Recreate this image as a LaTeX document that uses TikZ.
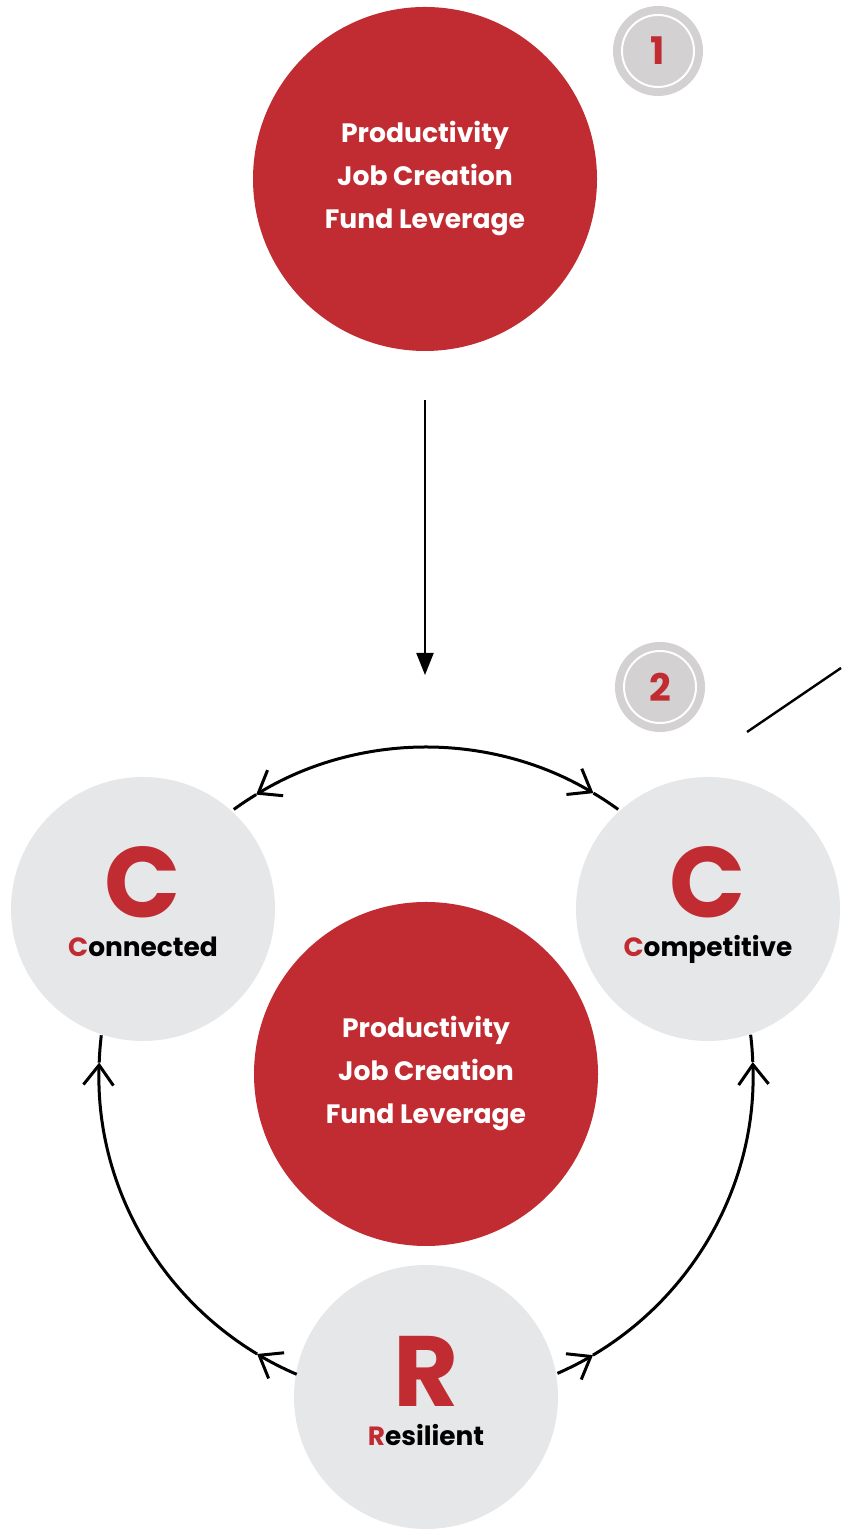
\documentclass[tikz,border=0pt]{standalone}
\usepackage{fontspec}
\setmainfont{Poppins}
\usetikzlibrary{arrows.meta,positioning,calc}
\definecolor{ccred}{RGB}{192,44,49}
\definecolor{ccgray}{RGB}{230,231,232}
\definecolor{badgegray}{RGB}{211,209,210}
\def\ringR{163.5pt}
\newcommand{\bigmark}[1]{{\fontsize{50}{19.5}\selectfont\textcolor{ccred}{#1}}}
\tikzset{
  reddot/.style={circle, fill=ccred, minimum size=172pt, inner sep=0pt, text=white,
    align=center, font=\bfseries\fontsize{13.3}{21.5}\selectfont},
  pillar/.style={circle, fill=ccgray, minimum size=132pt, inner sep=0pt},
  pillartext/.style={anchor=base, inner sep=0pt, align=center,
    font=\bfseries\fontsize{13.2}{19.5}\selectfont},
  badge/.style={circle, fill=badgegray, draw=white, line width=1pt, minimum size=36pt, inner sep=0pt,
    preaction={draw=badgegray, line width=9pt}, text=ccred, font=\bfseries\fontsize{19}{19}\selectfont},
  ring/.style={line width=1.5pt},
  barb/.style={-{Straight Barb[length=10pt,width=15pt]}}
}
\begin{document}
\begin{tikzpicture}[x=0.5pt, y=0.5pt]
    \useasboundingbox (0,0) rectangle (841,1529);

    % Top circle and badges
    \node[reddot] (top) at (425,1350) {Productivity\\Job Creation\\Fund Leverage};
    \node[badge] (one) at (658,1478) {1};
    \node[badge] (two) at (660,842) {2};

    % Arrow into the ring
    \coordinate (arrowstart) at (425,1129);
    \coordinate (arrowend) at (425,854);
    \draw[line width=1pt, -{Triangle[length=11pt,width=8.5pt]}] (arrowstart) -- (arrowend);

    % Line leaving to the right
    \coordinate (linestart) at (747,797);
    \coordinate (lineend) at (841,861);
    \draw[line width=1.2pt] (linestart) -- (lineend);

    % Centre and the three pillars
    \node[reddot] (mid) at (426,455) {Productivity\\Job Creation\\Fund Leverage};
    \node[pillar] (conn) at (143,620) {};
    \node[pillar] (comp) at (708,620) {};
    \node[pillar] (resil) at (426,132) {};

    \node[pillartext] (connT) at ($(conn.center)+(0,-48)$) {\bigmark{C}\\\textcolor{ccred}{C}onnected};
    \node[pillartext] (compT) at ($(comp.center)+(0,-48)$) {\bigmark{C}\\\textcolor{ccred}{C}ompetitive};
    \node[pillartext] (resilT) at ($(resil.center)+(0,-49)$) {\bigmark{R}\\\textcolor{ccred}{R}esilient};

    % Ring arcs (top)
    \draw[ring, barb] ([shift={(90:\ringR)}]mid.center) arc (90:121.3:\ringR);
    \draw[ring] ([shift={(121.3:\ringR)}]mid.center) arc (121.3:126:\ringR);
    \draw[ring, barb] ([shift={(90:\ringR)}]mid.center) arc (90:59.2:\ringR);
    \draw[ring] ([shift={(59.2:\ringR)}]mid.center) arc (59.2:54:\ringR);

    % Ring arcs (left)
    \draw[ring, barb] ([shift={(246.7:\ringR)}]mid.center) arc (246.7:238.9:\ringR);
    \draw[ring, barb] ([shift={(238.9:\ringR)}]mid.center) arc (238.9:178:\ringR);
    \draw[ring] ([shift={(178:\ringR)}]mid.center) arc (178:173.2:\ringR);

    % Ring arcs (right)
    \draw[ring, barb] ([shift={(293.7:\ringR)}]mid.center) arc (293.7:300.7:\ringR);
    \draw[ring, barb] ([shift={(300.7:\ringR)}]mid.center) arc (300.7:362.1:\ringR);
    \draw[ring] ([shift={(362.1:\ringR)}]mid.center) arc (362.1:366.9:\ringR);
\end{tikzpicture}
\end{document}
